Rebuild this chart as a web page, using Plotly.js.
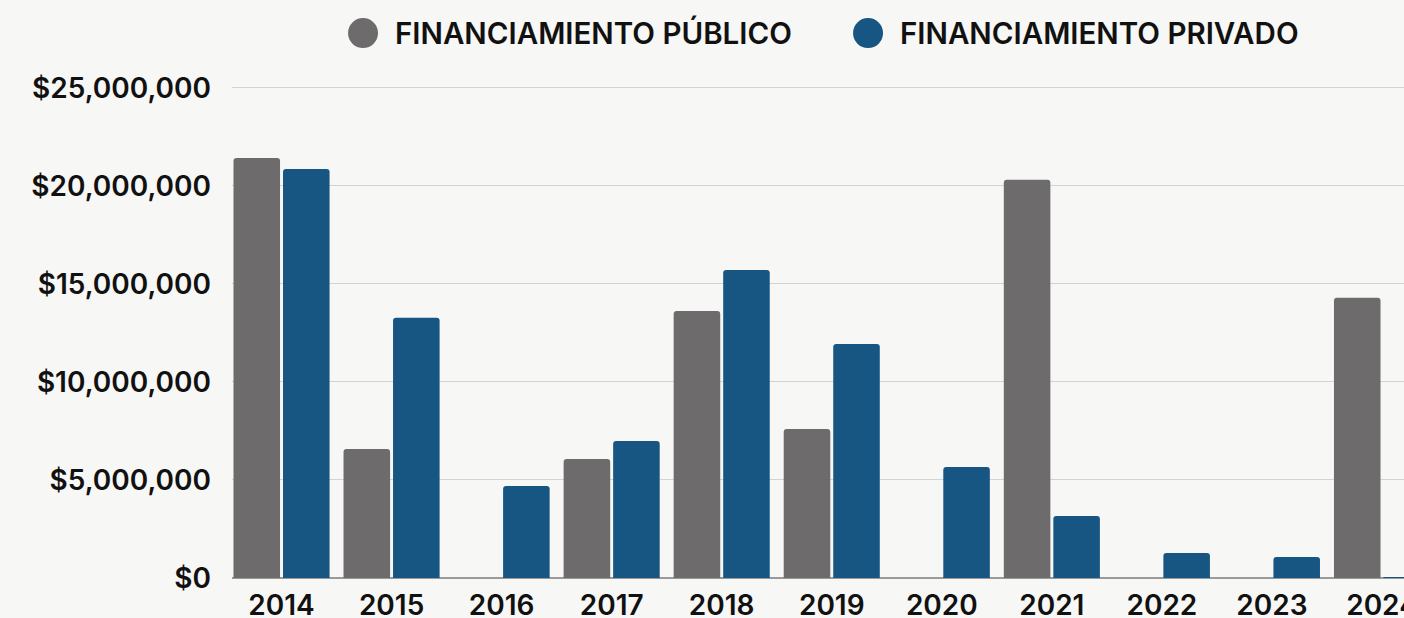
<!DOCTYPE html>
<html>
<head>
<meta charset="utf-8">
<script src="https://cdn.plot.ly/plotly-3.0.1.min.js"></script>
<style>html,body{margin:0;padding:0;background:#f7f7f6;}#chart{width:1404px;height:618px;}</style>
</head>
<body>
<div id="chart"></div>
<script>
const years = ['2014','2015','2016','2017','2018','2019','2020','2021','2022','2023','2024'];
const publico = [21430000, 6580000, 0, 6070000, 13620000, 7600000, 0, 20310000, 0, 0, 14290000];
const privado = [20870000, 13270000, 4690000, 6990000, 15710000, 11940000, 5660000, 3160000, 1280000, 1070000, 50000];
const seriesNames = ['FINANCIAMIENTO PÚBLICO', 'FINANCIAMIENTO PRIVADO'];
const colors = ['#6d6b6c', '#175583'];
const yTicks = [0, 5000000, 10000000, 15000000, 20000000, 25000000];
const yTickText = ['$0', '$5,000,000', '$10,000,000', '$15,000,000', '$20,000,000', '$25,000,000'];

const font = {family: 'Inter, "Open Sans", sans-serif', size: 28, color: '#111', weight: 600};

const traces = [
  {type: 'bar', x: years, y: publico, name: seriesNames[0], marker: {color: colors[0], cornerradius: 3}, hoverinfo: 'x+y'},
  {type: 'bar', x: years, y: privado, name: seriesNames[1], marker: {color: colors[1], cornerradius: 3}, hoverinfo: 'x+y'}
];

// legend drawn with circle shapes + annotations (positions in paper units of the plot area)
const legendX = [0.1118, 0.5427];
const legendY = 1.103;
const shapes = [];
const annotations = [];
for (let i = 0; i < 2; i++) {
  shapes.push({type: 'circle', xref: 'paper', yref: 'paper', xsizemode: 'pixel', ysizemode: 'pixel',
    xanchor: legendX[i], yanchor: legendY, x0: -15, x1: 15, y0: -15, y1: 15,
    fillcolor: colors[i], line: {width: 0}});
  annotations.push({xref: 'paper', yref: 'paper', x: legendX[i], y: legendY, xshift: 30,
    xanchor: 'left', yanchor: 'middle', showarrow: false, text: seriesNames[i],
    font: {family: font.family, size: 29.5, color: '#111', weight: 600}});
}

const layout = {
  width: 1404, height: 618,
  margin: {l: 232, r: 0, t: 84, b: 40, pad: 0},
  paper_bgcolor: '#f7f7f6', plot_bgcolor: 'rgba(0,0,0,0)',
  barmode: 'group', bargap: 0.1, bargroupgap: 0.06,
  showlegend: false,
  font: font,
  xaxis: {type: 'category', range: [-0.45, 10.2], showgrid: false, ticks: '', ticklabelstandoff: 8,
    tickfont: font, fixedrange: true, showline: false, zeroline: false},
  yaxis: {range: [0, 25200000], tickvals: yTicks, ticktext: yTickText, showgrid: true, gridcolor: '#d3d3d3',
    gridwidth: 1, zeroline: true, zerolinecolor: '#9a9a9a', zerolinewidth: 1.5, ticks: '', ticklabelstandoff: 20,
    tickfont: font, fixedrange: true, showline: false},
  shapes: shapes,
  annotations: annotations
};

Plotly.newPlot('chart', traces, layout, {displayModeBar: false, staticPlot: true});
</script>
</body>
</html>
